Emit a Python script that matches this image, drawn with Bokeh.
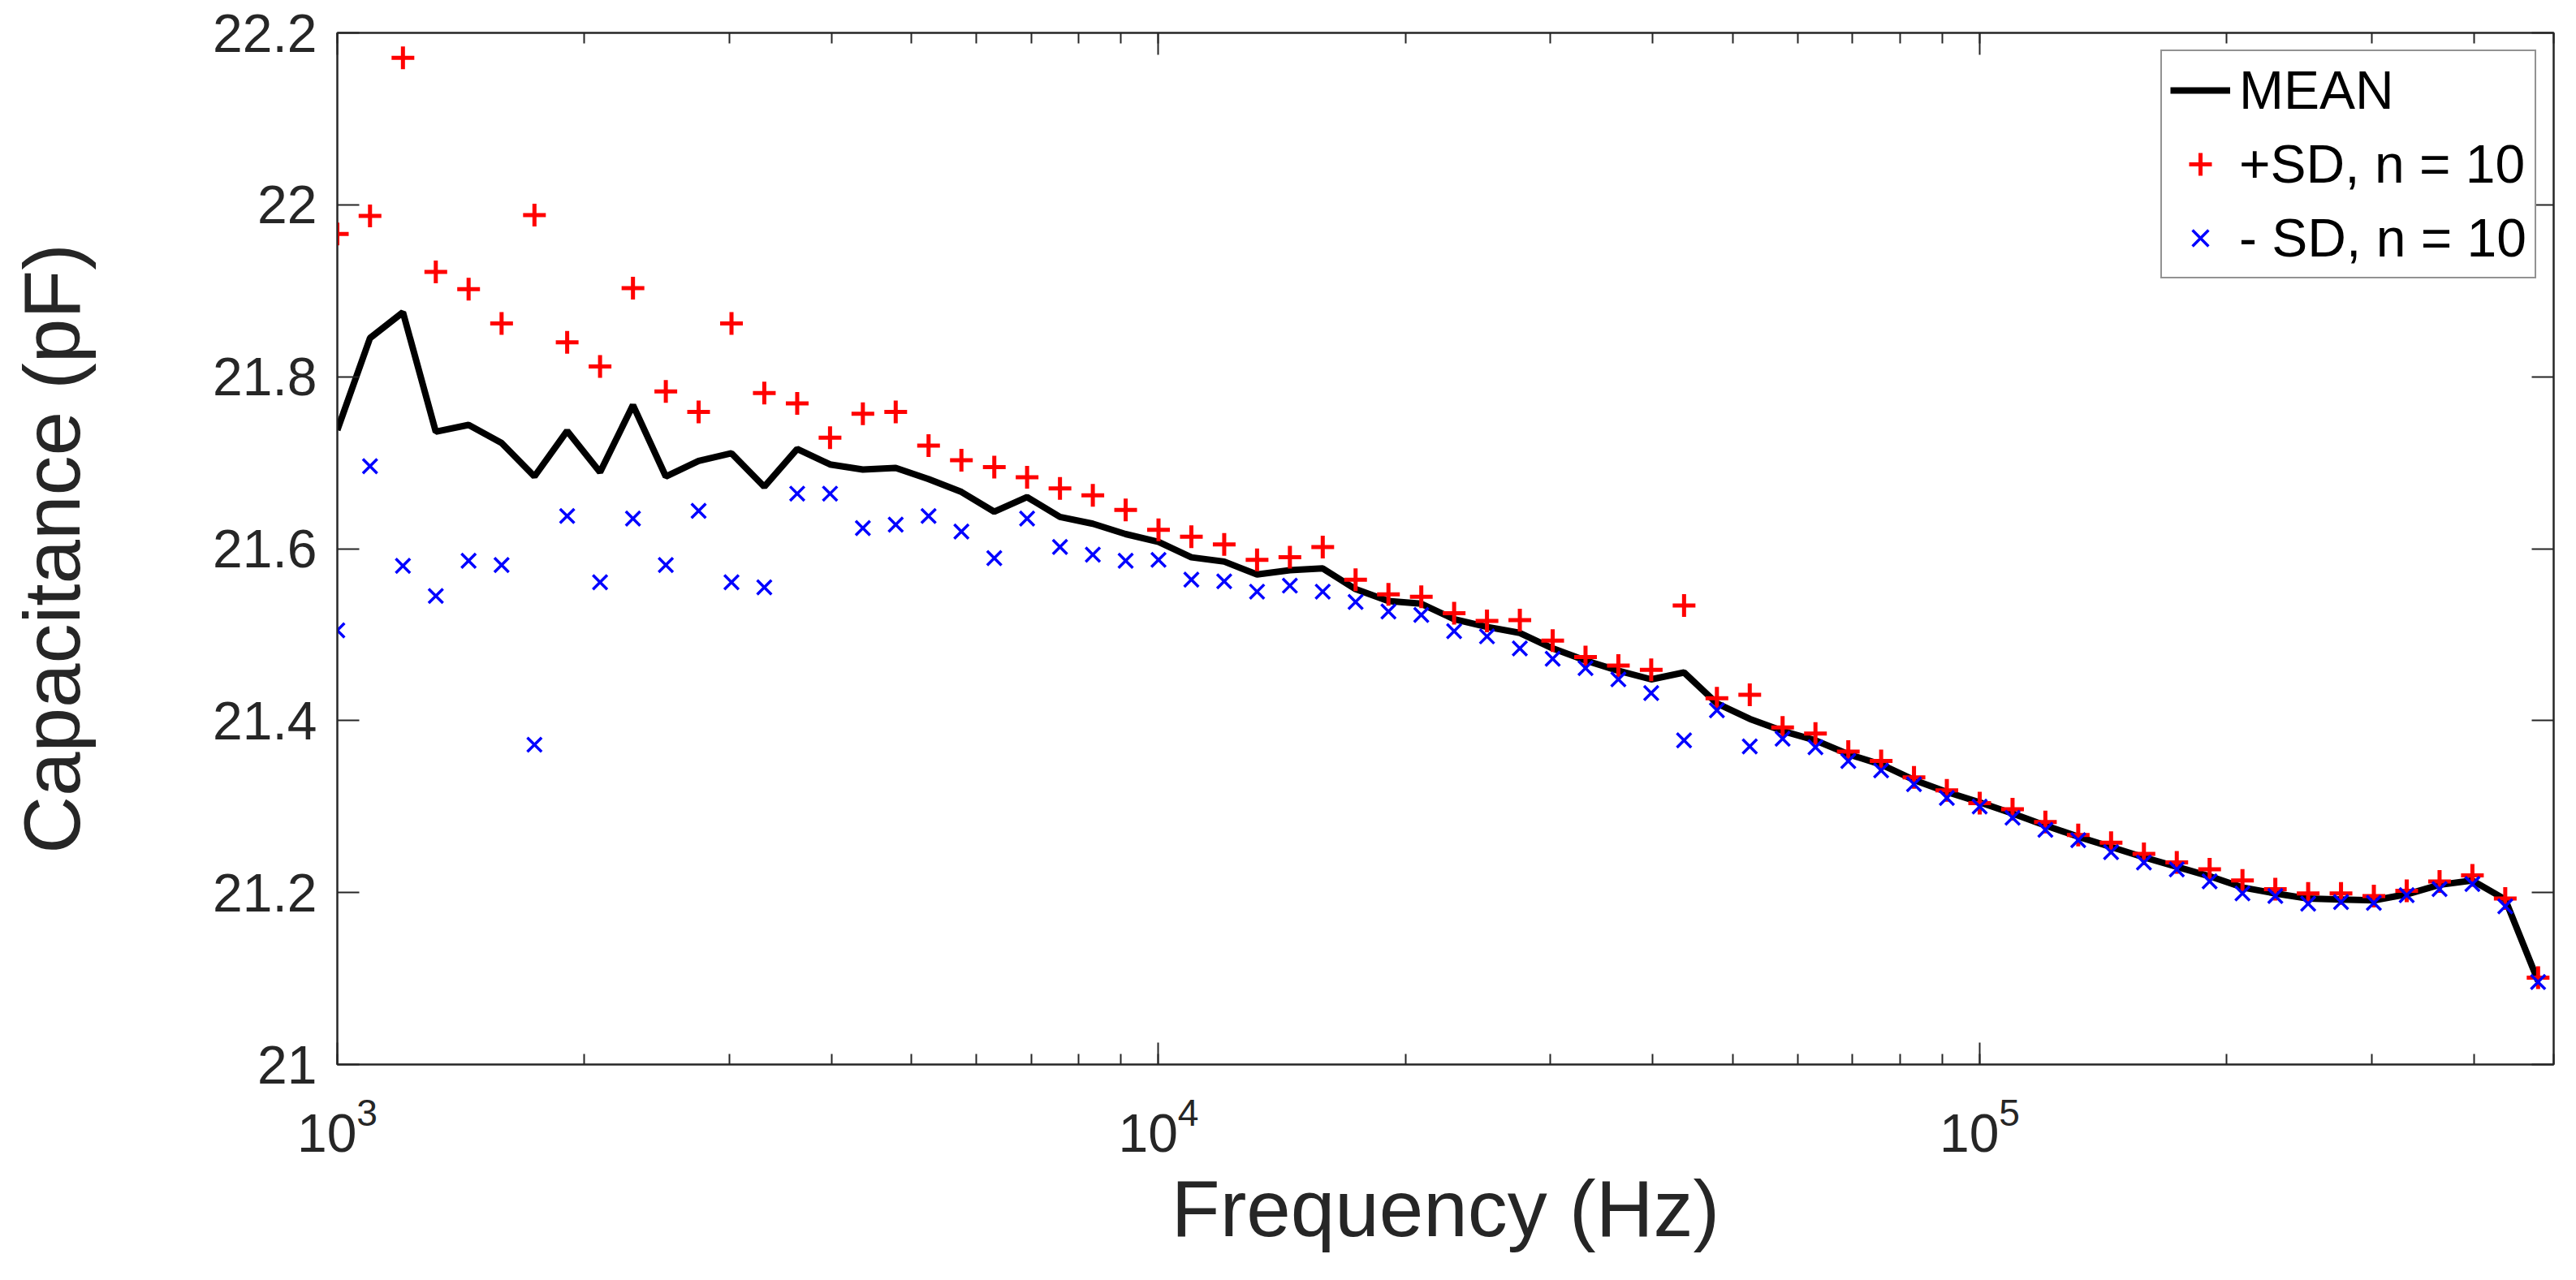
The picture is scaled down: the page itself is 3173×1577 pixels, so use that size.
from bokeh.plotting import figure
from bokeh.models import (Range1d, LogTicker, FixedTicker, LogAxis, LinearAxis,
                          CustomJSTickFormatter, Legend)
from bokeh.embed import file_html
from bokeh.resources import INLINE

# ---------------- data ----------------
FREQ = [1000, 1096, 1202, 1318, 1445, 1585, 1738, 1905, 2089, 2291,
        2512, 2754, 3020, 3311, 3631, 3981, 4365, 4786, 5248, 5754,
        6310, 6918, 7586, 8318, 9120, 10000, 10965, 12023, 13183, 14454,
        15849, 17378, 19055, 20893, 22909, 25119, 27542, 30200, 33113, 36308,
        39811, 43652, 47863, 52481, 57544, 63096, 69183, 75858, 83176, 91201,
        100000, 109648, 120226, 131826, 144544, 158489, 173780, 190546, 208930, 229087,
        251189, 275423, 301995, 331131, 363078, 398107, 436516, 478630]

MEAN = [21.738, 21.845, 21.875, 21.736, 21.744, 21.723, 21.684, 21.737, 21.689, 21.767,
        21.684, 21.702, 21.711, 21.672, 21.716, 21.698, 21.692, 21.694, 21.681, 21.666,
        21.643, 21.660, 21.637, 21.629, 21.617, 21.608, 21.590, 21.585, 21.570, 21.575,
        21.577, 21.553, 21.539, 21.536, 21.518, 21.509, 21.502, 21.484, 21.470, 21.458,
        21.448, 21.456, 21.420, 21.402, 21.388, 21.377, 21.361, 21.349, 21.331, 21.317,
        21.305, 21.292, 21.278, 21.265, 21.253, 21.241, 21.230, 21.219, 21.206, 21.199,
        21.193, 21.192, 21.191, 21.198, 21.209, 21.214, 21.192, 21.097]

PLUS_SD = [21.966, 21.987, 22.171, 21.922, 21.902, 21.862, 21.988, 21.840, 21.812, 21.903,
           21.783, 21.759, 21.862, 21.781, 21.769, 21.729, 21.757, 21.759, 21.720, 21.703,
           21.695, 21.683, 21.670, 21.662, 21.645, 21.622, 21.614, 21.605, 21.587, 21.590,
           21.602, 21.564, 21.547, 21.544, 21.525, 21.516, 21.517, 21.493, 21.474, 21.464,
           21.459, 21.534, 21.426, 21.430, 21.392, 21.385, 21.364, 21.353, 21.334, 21.319,
           21.304, 21.297, 21.282, 21.267, 21.258, 21.245, 21.235, 21.227, 21.214, 21.204,
           21.199, 21.199, 21.196, 21.202, 21.213, 21.220, 21.193, 21.101]

MINUS_SD = [21.505, 21.696, 21.580, 21.545, 21.586, 21.581, 21.372, 21.638, 21.561, 21.635,
            21.581, 21.644, 21.561, 21.555, 21.664, 21.664, 21.624, 21.628, 21.638, 21.620,
            21.589, 21.635, 21.602, 21.593, 21.586, 21.587, 21.564, 21.562, 21.550, 21.557,
            21.550, 21.538, 21.527, 21.523, 21.504, 21.498, 21.484, 21.472, 21.461, 21.448,
            21.432, 21.377, 21.412, 21.370, 21.379, 21.369, 21.353, 21.342, 21.326, 21.310,
            21.300, 21.287, 21.273, 21.261, 21.247, 21.235, 21.227, 21.213, 21.199, 21.196,
            21.187, 21.189, 21.188, 21.197, 21.204, 21.210, 21.184, 21.096]

Y_TICKS = [21.0, 21.2, 21.4, 21.6, 21.8, 22.0, 22.2]
X_RANGE = (1000, 500000)
Y_RANGE = (21.0, 22.2)

LEGEND_LABELS = ["MEAN", "+SD, n = 10", "- SD, n = 10"]
X_LABEL = "Frequency (Hz)"
Y_LABEL = "Capacitance (pF)"

# ---------------- styling ----------------
FONT = "Liberation Sans"
AXC = "#262626"
TICK_FS = "66px"
LABEL_FS = "98px"

p = figure(width=3157, height=1561, x_axis_type="log",
           x_range=Range1d(*X_RANGE), y_range=Range1d(*Y_RANGE),
           output_backend="svg", toolbar_location=None,
           min_border_left=415, min_border_right=12,
           min_border_top=40, min_border_bottom=250)
p.background_fill_color = "white"
p.border_fill_color = "white"
p.grid.visible = False
p.outline_line_color = AXC
p.outline_line_width = 2

xt = LogTicker(num_minor_ticks=10)
yt = FixedTicker(ticks=Y_TICKS, minor_ticks=[])


def style_ticks(ax):
    ax.axis_line_color = AXC
    ax.axis_line_width = 2
    ax.major_tick_line_color = AXC
    ax.minor_tick_line_color = AXC
    ax.major_tick_line_width = 2
    ax.minor_tick_line_width = 2
    ax.major_tick_in = 27
    ax.major_tick_out = 0
    ax.minor_tick_in = 13
    ax.minor_tick_out = 0


xa = p.xaxis[0]
xa.ticker = xt
xa.axis_label = X_LABEL
ya = p.yaxis[0]
ya.ticker = yt
ya.axis_label = Y_LABEL
ya.formatter = CustomJSTickFormatter(code="return (Math.round(tick*10)/10).toString();")
for ax in [xa, ya]:
    style_ticks(ax)
    ax.major_label_text_font = FONT
    ax.major_label_text_font_size = TICK_FS
    ax.major_label_text_color = AXC
    ax.axis_label_text_font = FONT
    ax.axis_label_text_font_size = LABEL_FS
    ax.axis_label_text_font_style = "normal"
    ax.axis_label_text_color = AXC
xa.major_label_standoff = 40
xa.axis_label_standoff = 12
ya.major_label_standoff = 25
ya.axis_label_standoff = 140

# top / right tick-only axes (box with ticks on all sides)
top = LogAxis(ticker=xt, formatter=CustomJSTickFormatter(code="return '';"))
right = LinearAxis(ticker=yt, formatter=CustomJSTickFormatter(code="return '';"))
for ax in [top, right]:
    style_ticks(ax)
    ax.major_label_standoff = 0
    ax.major_label_text_font_size = "1px"
p.add_layout(top, "above")
p.add_layout(right, "right")

# ---------------- glyphs ----------------
r_mean = p.line(FREQ, MEAN, line_color="black", line_width=8)
r_plus = p.scatter(FREQ, PLUS_SD, marker="cross", size=28,
                   line_color="red", line_width=5)
r_minus = p.scatter(FREQ, MINUS_SD, marker="x", size=25,
                    line_color="blue", line_width=3.5)

legend = Legend(items=[(LEGEND_LABELS[0], [r_mean]),
                       (LEGEND_LABELS[1], [r_plus]),
                       (LEGEND_LABELS[2], [r_minus])],
                location="top_right")
legend.margin = 21
legend.padding = 10
legend.spacing = 15
legend.glyph_width = 74
legend.glyph_height = 70
legend.label_height = 70
legend.label_standoff = 11
legend.label_text_font = FONT
legend.label_text_font_size = TICK_FS
legend.label_text_color = "black"
legend.border_line_color = AXC
legend.border_line_width = 2
legend.background_fill_color = "white"
legend.background_fill_alpha = 1.0
p.add_layout(legend)

open("out.html", "w").write(file_html(p, INLINE))
